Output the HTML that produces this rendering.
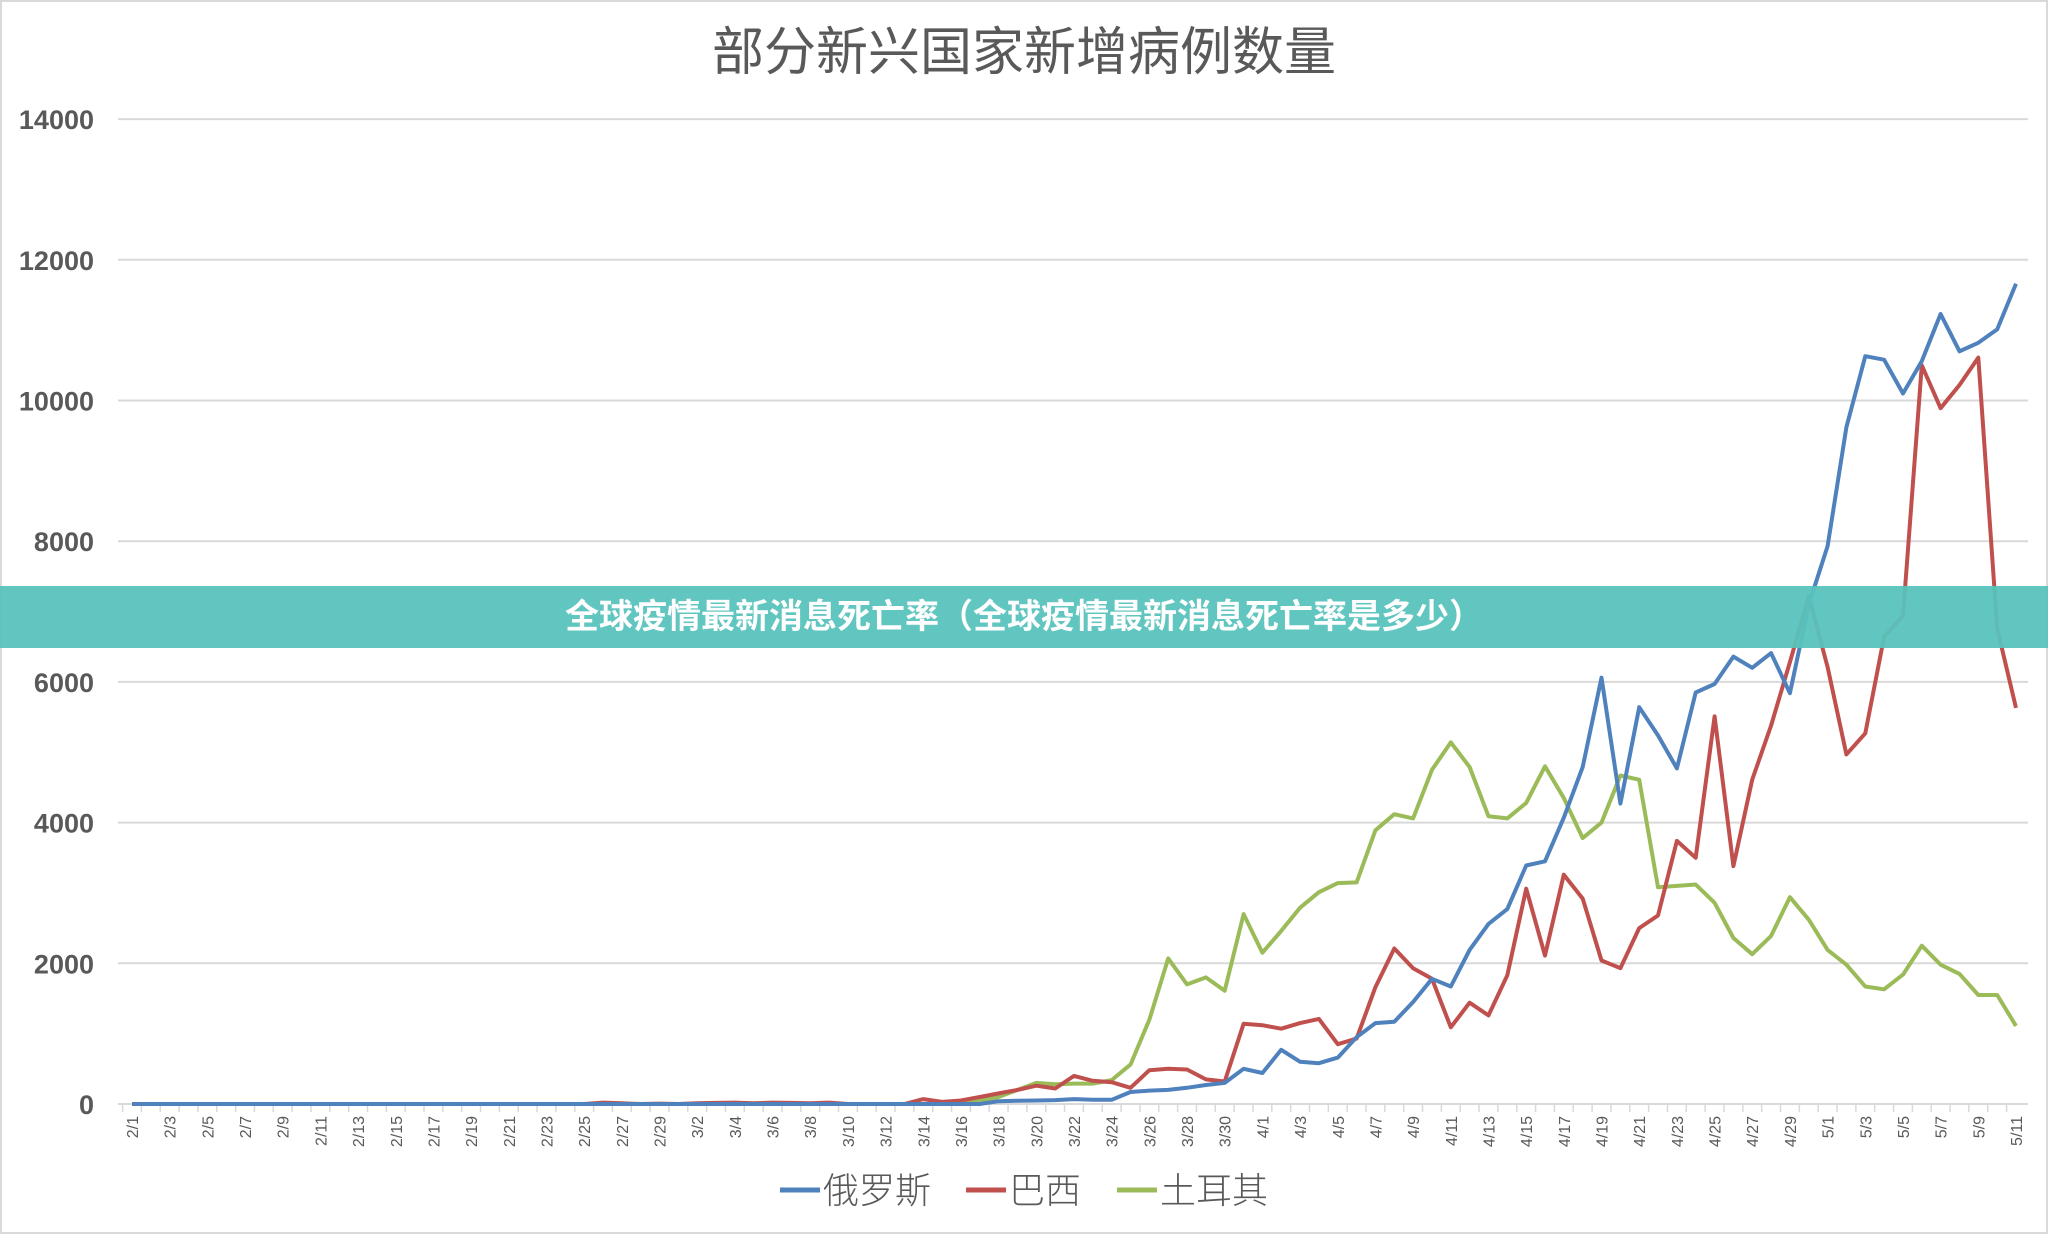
<!DOCTYPE html>
<html><head><meta charset="utf-8">
<style>
html,body{margin:0;padding:0;background:#fff;}
#wrap{position:relative;width:2048px;height:1234px;overflow:hidden;background:#fff;}
svg{position:absolute;left:0;top:0;}
#banner{position:absolute;left:0;top:586px;width:2048px;height:62px;background:rgba(88,194,188,0.94);color:#fff;font:bold 34px "Liberation Sans","Noto Sans CJK SC",sans-serif;text-align:center;line-height:62px;}
</style></head><body>
<div id="wrap">
<svg id="s" width="2048" height="1234" xmlns="http://www.w3.org/2000/svg"></svg>
<div id="banner">全球疫情最新消息死亡率（全球疫情最新消息死亡率是多少）</div>
</div>
<script>
const S=document.getElementById('s');
const X0=132,DX=18.84,Y0=1104,PY=140.7/2000;
const x=i=>X0+i*DX, y=v=>Y0-v*PY;
let h='';
h+='<rect x="1" y="1" width="2046" height="1232" fill="none" stroke="#d9d9d9" stroke-width="2"/>';
h+='<text x="1024" y="70" text-anchor="middle" font-family="Liberation Sans,Noto Sans CJK SC,sans-serif" font-size="52" fill="#595959">部分新兴国家新增病例数量</text>';
for(let v=0;v<=14000;v+=2000){
 if(v>0)h+=`<line x1="118" x2="2028" y1="${y(v)}" y2="${y(v)}" stroke="#d9d9d9" stroke-width="2"/>`;
 h+=`<text x="94" y="${y(v)+10}" text-anchor="end" font-family="Liberation Sans,sans-serif" font-weight="bold" font-size="27" fill="#595959">${v}</text>`;
}
h+=`<line x1="118" x2="2028" y1="${Y0}" y2="${Y0}" stroke="#d9d9d9" stroke-width="2"/>`;
function lab(i){if(i<=28)return '2/'+(i+1);if(i<=59)return '3/'+(i-28);if(i<=89)return '4/'+(i-59);return '5/'+(i-89);}
for(let i=0;i<=100;i++){
 h+=`<line x1="${x(i)-DX/2}" x2="${x(i)-DX/2}" y1="${Y0}" y2="${Y0+8}" stroke="#d9d9d9" stroke-width="1.5"/>`;
 if(i%2==0){h+=`<text transform="translate(${x(i)+6},${Y0+12}) rotate(-90)" text-anchor="end" font-family="Liberation Sans,sans-serif" font-size="16" fill="#595959">${lab(i)}</text>`;}
}
function ser(start,vals){const a=[];for(let i=0;i<=100;i++)a.push(0);const off=101-vals.length;vals.forEach((v,k)=>a[off+k]=v);return a;}
const ru=[0,0,0,0,0,0,0,0,40,45,50,55,70,60,60,170,190,200,230,270,300,500,440,770,600,580,660,950,1150,1170,1450,1780,1670,2190,2560,2770,3390,3450,4070,4790,6060,4270,5640,5240,4770,5850,5970,6360,6200,6410,5840,7100,7930,9620,10630,10580,10100,10560,11230,10700,10820,11010,11660];
const br=[0,0,0,0,70,30,50,100,150,200,260,220,400,330,310,230,480,500,490,350,320,1140,1120,1070,1150,1210,850,930,1660,2210,1930,1780,1090,1440,1260,1830,3060,2110,3260,2920,2040,1930,2500,2680,3740,3500,5510,3380,4610,5380,6280,7220,6210,4970,5270,6640,6940,10500,9890,10220,10610,6760,5630];
const tr=[0,0,0,0,0,0,50,100,200,300,280,290,290,340,560,1200,2070,1700,1800,1610,2700,2150,2460,2790,3010,3140,3150,3890,4120,4060,4750,5140,4790,4090,4060,4280,4800,4350,3780,4000,4670,4610,3080,3100,3120,2860,2360,2130,2390,2940,2620,2190,1980,1670,1630,1840,2250,1980,1850,1550,1550,1110];
function path(a,from,col){let d='';for(let i=from;i<=100;i++)d+=(i==from?'M':'L')+x(i).toFixed(1)+','+y(a[i]).toFixed(1);return `<path d="${d}" fill="none" stroke="${col}" stroke-width="4" stroke-linejoin="round"/>`;}
const R=ser(0,ru),B=ser(0,br),T=ser(0,tr);
for(let i=24;i<38;i++)B[i]=[0,20,10,0,5,0,10,15,20,10,20,15,10,20][i-24];
h+=path(T,38,'#9bbb59');
h+=path(B,24,'#c0504d');
h+=path(R,0,'#4f81bd');
const L=[[780,'#4f81bd','俄罗斯'],[966,'#c0504d','巴西'],[1117,'#9bbb59','土耳其']];
L.forEach(([lx,c,t])=>{h+=`<line x1="${lx}" x2="${lx+40}" y1="1190" y2="1190" stroke="${c}" stroke-width="5"/><text x="${lx+43}" y="1203" font-family="Liberation Sans,Noto Sans CJK SC,sans-serif" font-size="36" font-weight="300" fill="#595959">${t}</text>`;});
S.innerHTML=h;
</script>
</body></html>
